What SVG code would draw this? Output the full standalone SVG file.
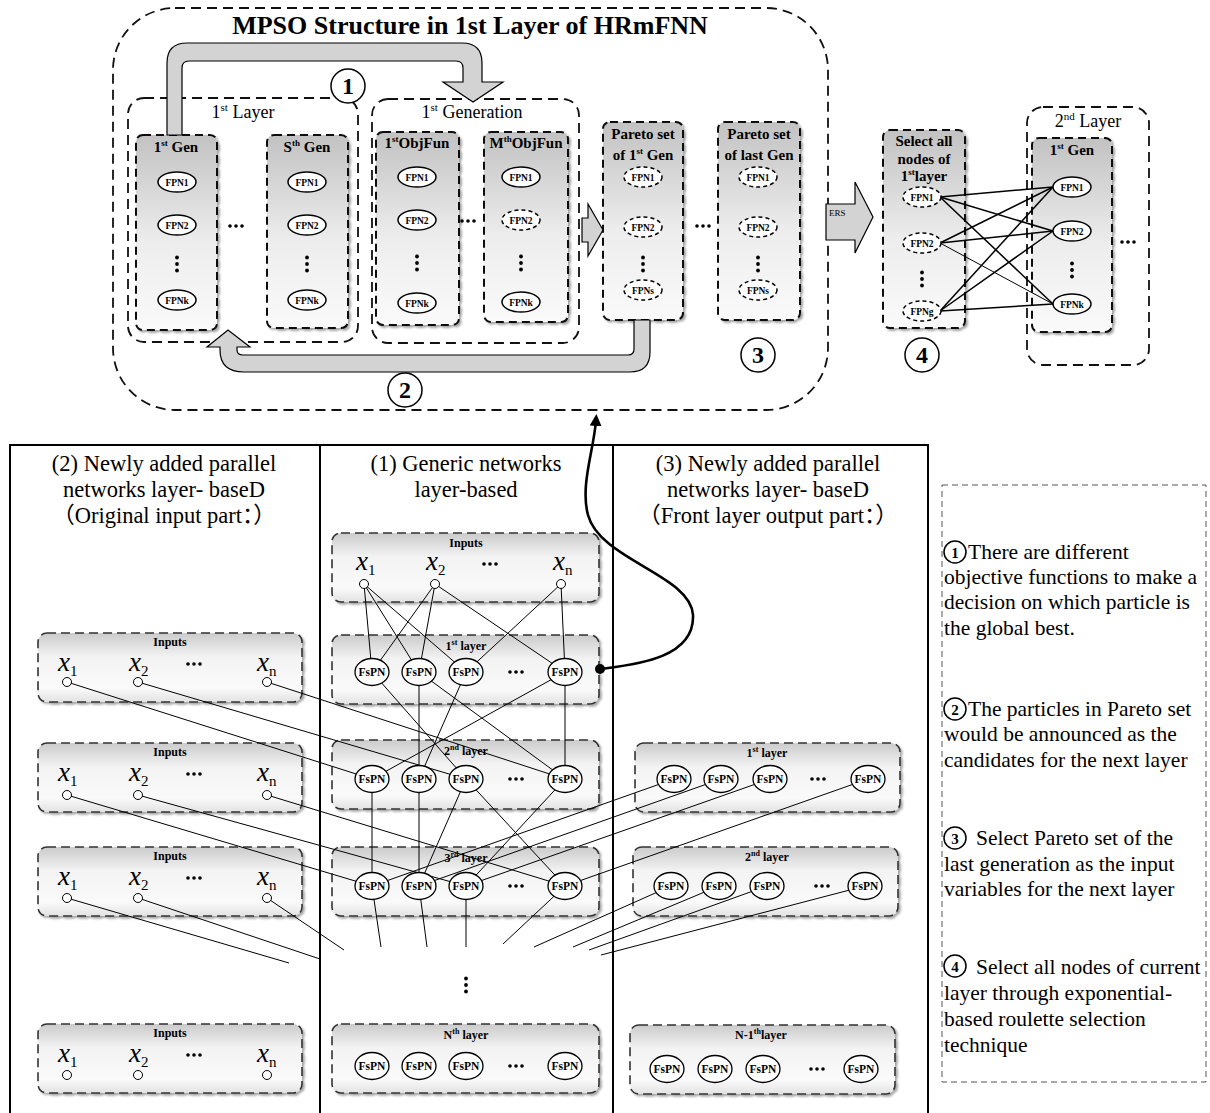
<svg xmlns="http://www.w3.org/2000/svg" xmlns:xlink="http://www.w3.org/1999/xlink" width="1210" height="1113" viewBox="0 0 1210 1113">
<defs>
<linearGradient id="gCol" x1="0" y1="0" x2="0" y2="1">
<stop offset="0" stop-color="#c2c2c2"/><stop offset="0.55" stop-color="#ededed"/><stop offset="1" stop-color="#fafafa"/>
</linearGradient>
<linearGradient id="gRow" x1="0" y1="0" x2="0" y2="1">
<stop offset="0" stop-color="#cbcbcb"/><stop offset="0.35" stop-color="#f3f3f3"/><stop offset="0.8" stop-color="#fafafa"/><stop offset="1" stop-color="#e2e2e2"/>
</linearGradient>
<filter id="sh" x="-10%" y="-10%" width="120%" height="120%">
<feDropShadow dx="2" dy="2" stdDeviation="1.2" flood-color="#000" flood-opacity="0.35"/>
</filter>
<marker id="ah" markerWidth="12" markerHeight="12" refX="6" refY="6" orient="auto" markerUnits="userSpaceOnUse">
<path d="M0,0 L12,6 L0,12 Z" fill="#000"/>
</marker>
<g id="hd"><circle cx="-6" cy="0" r="1.8"/><circle cx="0" cy="0" r="1.8"/><circle cx="6" cy="0" r="1.8"/></g>
<g id="vd"><circle cx="0" cy="-6.5" r="1.9"/><circle cx="0" cy="0" r="1.9"/><circle cx="0" cy="6.5" r="1.9"/></g>
</defs>
<style>
text{font-family:"Liberation Serif","Times New Roman","Noto Sans CJK SC",serif;fill:#000}
.b{font-weight:bold}
.mid{text-anchor:middle}
.col{fill:url(#gCol);stroke:#111;stroke-width:2;stroke-dasharray:8 5;filter:url(#sh)}
.row{fill:url(#gRow);stroke:#333;stroke-width:1.6;stroke-dasharray:9 5;filter:url(#sh)}
.grp{fill:none;stroke:#111;stroke-width:1.8;stroke-dasharray:10 6}
.fpn{fill:#fff;stroke:#000;stroke-width:1.5}
.fpnd{fill:#fff;stroke:#000;stroke-width:1.5;stroke-dasharray:4 3}
.fs{fill:#fff;stroke:#000;stroke-width:1.3}
.inp{fill:#fff;stroke:#000;stroke-width:1}
.ln{stroke:#000;stroke-width:1;fill:none}
.bl{stroke:#000;stroke-width:1.5;fill:none}
.band{fill:#d3d3d3;stroke:#000;stroke-width:1.2}
.nc{fill:#fff;stroke:#000;stroke-width:1.5}
.fl{font-size:9.5px;font-weight:bold;text-anchor:middle}
.fsl{font-size:11.5px;font-weight:bold;text-anchor:middle}
.ct{font-size:15px;font-weight:bold;text-anchor:middle}
.xv{font-size:27px;font-style:italic}
.sub{font-size:15px;font-style:normal}
.il{font-size:12px;font-weight:bold;text-anchor:middle}
.hd{font-size:22.5px;text-anchor:middle}
.tx{font-size:21.5px}
.panel{fill:none;stroke:#000;stroke-width:2}
</style>

<!-- ===== TOP CONTAINERS ===== -->
<g id="mpso-outer">
<rect x="113" y="8" width="715" height="402" rx="62" class="grp" stroke-dasharray="12 7"/>
<text x="470" y="34" class="b mid" font-size="26">MPSO Structure in 1st Layer of HRmFNN</text>
</g>
<g id="layer1-group">
<rect x="128" y="98" width="230" height="244" rx="16" class="grp"/>
<text x="243" y="118" class="mid" font-size="18">1<tspan font-size="11" dy="-7">st</tspan><tspan dy="7"> Layer</tspan></text>
</g>
<g id="gen1-col">
<rect x="136" y="135" width="81" height="195" rx="7" class="col"/>
<text x="176" y="152" class="ct">1<tspan font-size="9" dy="-6">st</tspan><tspan dy="6"> Gen</tspan></text>
</g>
<g id="genS-col">
<rect x="267" y="135" width="81" height="193" rx="7" class="col"/>
<text x="307" y="152" class="ct">S<tspan font-size="9" dy="-6">th</tspan><tspan dy="6">  Gen</tspan></text>
</g>
<g id="generation1-group">
<rect x="372" y="99" width="207" height="244" rx="16" class="grp"/>
<text x="472" y="118" class="mid" font-size="18">1<tspan font-size="11" dy="-7">st</tspan><tspan dy="7"> Generation</tspan></text>
</g>
<g id="objfun1-col">
<rect x="376" y="132" width="83" height="193" rx="7" class="col"/>
<text x="417" y="148" class="ct">1<tspan font-size="9" dy="-6">st</tspan><tspan dy="6">ObjFun</tspan></text>
</g>
<g id="objfunM-col">
<rect x="484" y="132" width="84" height="190" rx="7" class="col"/>
<text x="526" y="148" class="ct">M<tspan font-size="9" dy="-6">th</tspan><tspan dy="6">ObjFun</tspan></text>
</g>
<g id="pareto1-col">
<rect x="603" y="122" width="80" height="198" rx="7" class="col"/>
<text x="643" y="139" class="ct">Pareto set</text>
<text x="643" y="160" class="ct">of 1<tspan font-size="9" dy="-6">st</tspan><tspan dy="6"> Gen</tspan></text>
</g>
<g id="paretoLast-col">
<rect x="718" y="122" width="82" height="198" rx="7" class="col"/>
<text x="759" y="139" class="ct">Pareto set</text>
<text x="759" y="160" class="ct">of last Gen</text>
</g>
<g id="select-col">
<rect x="883" y="130" width="82" height="198" rx="7" class="col"/>
<text x="924" y="146" class="ct">Select all</text>
<text x="924" y="164" class="ct">nodes of</text>
<text x="924" y="181" class="ct">1<tspan font-size="9" dy="-6">st</tspan><tspan dy="6">layer</tspan></text>
</g>
<g id="layer2-group">
<rect x="1027" y="107" width="122" height="258" rx="16" class="grp"/>
<text x="1088" y="127" class="mid" font-size="18">2<tspan font-size="11" dy="-7">nd</tspan><tspan dy="7"> Layer</tspan></text>
</g>
<g id="layer2-gen1-col">
<rect x="1032" y="138" width="80" height="194" rx="7" class="col"/>
<text x="1072" y="155" class="ct">1<tspan font-size="9" dy="-6">st</tspan><tspan dy="6"> Gen</tspan></text>
</g>

<!-- ===== BOTTOM PANELS ===== -->
<g id="panels">
<rect x="10" y="445" width="918" height="690" class="panel"/>
<line x1="320" y1="445" x2="320" y2="1113" class="panel"/>
<line x1="613" y1="445" x2="613" y2="1113" class="panel"/>
<text x="164" y="471" class="hd">(2) Newly added parallel</text>
<text x="164" y="497" class="hd">networks layer- baseD</text>
<text x="164" y="523" class="hd">（Original input part：）</text>
<text x="466" y="471" class="hd">(1) Generic networks</text>
<text x="466" y="497" class="hd">layer-based</text>
<text x="768" y="471" class="hd">(3) Newly added parallel</text>
<text x="768" y="497" class="hd">networks layer- baseD</text>
<text x="768" y="523" class="hd">（Front layer output part：）</text>
</g>

<!-- middle column -->
<g id="mid-inputs">
<rect x="332" y="533" width="267" height="69" rx="9" class="row"/>
<text x="466" y="547" class="il">Inputs</text>
<text x="356" y="570" class="xv">x<tspan class="sub" dy="5">1</tspan></text>
<text x="426" y="570" class="xv">x<tspan class="sub" dy="5">2</tspan></text>
<text x="553" y="570" class="xv">x<tspan class="sub" dy="5">n</tspan></text>
<use xlink:href="#hd" x="490" y="564"/>
</g>
<g id="mid-layer1">
<rect x="332" y="635" width="267" height="69" rx="9" class="row"/>
<text x="466" y="650" class="il">1<tspan font-size="8" dy="-5">st</tspan><tspan dy="5"> layer</tspan></text>
<use xlink:href="#hd" x="516" y="672"/>
</g>
<g id="mid-layer2">
<rect x="332" y="740" width="267" height="69" rx="9" class="row"/>
<text x="466" y="755" class="il">2<tspan font-size="8" dy="-5">nd</tspan><tspan dy="5"> layer</tspan></text>
<use xlink:href="#hd" x="516" y="779"/>
</g>
<g id="mid-layer3">
<rect x="332" y="847" width="267" height="69" rx="9" class="row"/>
<text x="466" y="862" class="il">3<tspan font-size="8" dy="-5">rd</tspan><tspan dy="5"> layer</tspan></text>
<use xlink:href="#hd" x="516" y="886"/>
</g>
<use xlink:href="#vd" x="466" y="985"/>
<g id="mid-layerN">
<rect x="332" y="1024" width="267" height="69" rx="9" class="row"/>
<text x="466" y="1039" class="il">N<tspan font-size="8" dy="-5">th</tspan><tspan dy="5"> layer</tspan></text>
<use xlink:href="#hd" x="516" y="1066"/>
</g>

<!-- left column -->
<g id="left-inputs-1">
<rect x="38" y="633" width="264" height="69" rx="9" class="row"/>
<text x="170" y="646" class="il">Inputs</text>
<text x="58" y="671" class="xv">x<tspan class="sub" dy="5">1</tspan></text>
<text x="129" y="671" class="xv">x<tspan class="sub" dy="5">2</tspan></text>
<text x="257" y="671" class="xv">x<tspan class="sub" dy="5">n</tspan></text>
<use xlink:href="#hd" x="194" y="664"/>
</g>
<g id="left-inputs-2">
<rect x="38" y="743" width="264" height="69" rx="9" class="row"/>
<text x="170" y="756" class="il">Inputs</text>
<text x="58" y="781" class="xv">x<tspan class="sub" dy="5">1</tspan></text>
<text x="129" y="781" class="xv">x<tspan class="sub" dy="5">2</tspan></text>
<text x="257" y="781" class="xv">x<tspan class="sub" dy="5">n</tspan></text>
<use xlink:href="#hd" x="194" y="774"/>
</g>
<g id="left-inputs-3">
<rect x="38" y="847" width="264" height="69" rx="9" class="row"/>
<text x="170" y="860" class="il">Inputs</text>
<text x="58" y="885" class="xv">x<tspan class="sub" dy="5">1</tspan></text>
<text x="129" y="885" class="xv">x<tspan class="sub" dy="5">2</tspan></text>
<text x="257" y="885" class="xv">x<tspan class="sub" dy="5">n</tspan></text>
<use xlink:href="#hd" x="194" y="878"/>
</g>
<g id="left-inputs-4">
<rect x="38" y="1024" width="264" height="69" rx="9" class="row"/>
<text x="170" y="1037" class="il">Inputs</text>
<text x="58" y="1062" class="xv">x<tspan class="sub" dy="5">1</tspan></text>
<text x="129" y="1062" class="xv">x<tspan class="sub" dy="5">2</tspan></text>
<text x="257" y="1062" class="xv">x<tspan class="sub" dy="5">n</tspan></text>
<use xlink:href="#hd" x="194" y="1055"/>
</g>

<!-- right column -->
<g id="right-layer1">
<rect x="635" y="743" width="265" height="69" rx="9" class="row"/>
<text x="767" y="757" class="il">1<tspan font-size="8" dy="-5">st</tspan><tspan dy="5"> layer</tspan></text>
<use xlink:href="#hd" x="818" y="779"/>
</g>
<g id="right-layer2">
<rect x="633" y="847" width="265" height="69" rx="9" class="row"/>
<text x="767" y="861" class="il">2<tspan font-size="8" dy="-5">nd</tspan><tspan dy="5"> layer</tspan></text>
<use xlink:href="#hd" x="822" y="886"/>
</g>
<g id="right-layerN1">
<rect x="630" y="1025" width="265" height="69" rx="9" class="row"/>
<text x="761" y="1039" class="il">N-1<tspan font-size="8" dy="-5">th</tspan><tspan dy="5">layer</tspan></text>
<use xlink:href="#hd" x="817" y="1069"/>
</g>

<!-- legend -->
<g id="legend">
<rect x="942" y="485" width="264" height="597" fill="none" stroke="#555" stroke-width="1" stroke-dasharray="6 4"/>
<circle cx="955" cy="552" r="11" class="nc"/><text x="955" y="557.5" class="ct">1</text>
<text x="968" y="559" class="tx">There are different</text>
<text x="944" y="584" class="tx">objective functions to make a</text>
<text x="944" y="609" class="tx">decision on which particle is</text>
<text x="944" y="635" class="tx">the global best.</text>
<circle cx="955" cy="709" r="11" class="nc"/><text x="955" y="714.5" class="ct">2</text>
<text x="968" y="716" class="tx">The particles in Pareto set</text>
<text x="944" y="741" class="tx">would be announced as the</text>
<text x="944" y="767" class="tx">candidates for the next layer</text>
<circle cx="955" cy="838" r="11" class="nc"/><text x="955" y="843.5" class="ct">3</text>
<text x="976" y="845" class="tx">Select Pareto set of the</text>
<text x="944" y="871" class="tx">last generation as the input</text>
<text x="944" y="896" class="tx">variables for the next layer</text>
<circle cx="955" cy="966" r="11" class="nc"/><text x="955" y="971.5" class="ct">4</text>
<text x="976" y="974" class="tx">Select all nodes of current</text>
<text x="944" y="1000" class="tx">layer through exponential-</text>
<text x="944" y="1026" class="tx">based roulette selection</text>
<text x="944" y="1052" class="tx">technique</text>
</g>

<!-- ===== CONNECTORS ===== -->
<g id="connectors">
<path class="band" d="M167,135 V63 Q167,43 187,43 H462 Q482,43 482,63 V82 H503 L473,102 L443,82 H463 V68 Q463,61 456,61 H189 Q182,61 182,68 V135 Z"/>
<path class="band" d="M634,320 H650 V352 Q650,372 630,372 H244 Q220,372 220,350 V347 H207 L228,330 L250,347 H237 V350 Q237,355 243,355 H628 Q634,355 634,349 Z"/>
<polygon class="band" points="582,218 588,218 588,204 603,230 588,256 588,242 582,242"/>
<polygon class="band" points="826,204 855,204 855,182 873,217 855,253 855,240 826,240"/>
<text x="829" y="216" font-size="9" fill="#333">ERS</text>
<!-- bipartite -->
<line class="bl" x1="940" y1="197" x2="1053" y2="187"/>
<line class="bl" x1="940" y1="197" x2="1053" y2="231"/>
<line class="bl" x1="940" y1="197" x2="1053" y2="304"/>
<line class="bl" x1="940" y1="243" x2="1053" y2="187"/>
<line class="bl" x1="940" y1="243" x2="1053" y2="231"/>
<line class="ln" x1="940" y1="243" x2="1053" y2="304" stroke-width="0.8"/>
<line class="bl" x1="940" y1="311" x2="1053" y2="187"/>
<line class="bl" x1="940" y1="311" x2="1053" y2="231"/>
<line class="bl" x1="940" y1="311" x2="1053" y2="304"/>
<!-- middle inputs to layer 1 -->
<line class="ln" x1="364" y1="584" x2="372" y2="672"/>
<line class="ln" x1="364" y1="584" x2="419" y2="672"/>
<line class="ln" x1="364" y1="584" x2="466" y2="672"/>
<line class="ln" x1="435" y1="584" x2="372" y2="672"/>
<line class="ln" x1="435" y1="584" x2="419" y2="672"/>
<line class="ln" x1="435" y1="584" x2="565" y2="672"/>
<line class="ln" x1="561" y1="584" x2="466" y2="672"/>
<line class="ln" x1="561" y1="584" x2="565" y2="672"/>
<!-- layer1 to layer2 -->
<line class="ln" x1="372" y1="672" x2="466" y2="779"/>
<line class="ln" x1="419" y1="672" x2="419" y2="779"/>
<line class="ln" x1="419" y1="672" x2="565" y2="779"/>
<line class="ln" x1="466" y1="672" x2="419" y2="779"/>
<line class="ln" x1="565" y1="672" x2="372" y2="779"/>
<line class="ln" x1="565" y1="672" x2="565" y2="779"/>
<!-- layer2 to layer3 -->
<line class="ln" x1="372" y1="779" x2="372" y2="886"/>
<line class="ln" x1="419" y1="779" x2="419" y2="886"/>
<line class="ln" x1="466" y1="779" x2="419" y2="886"/>
<line class="ln" x1="466" y1="779" x2="565" y2="886"/>
<line class="ln" x1="565" y1="779" x2="466" y2="886"/>
<!-- layer3 downward -->
<line class="ln" x1="372" y1="886" x2="381" y2="947"/>
<line class="ln" x1="419" y1="886" x2="427" y2="947"/>
<line class="ln" x1="466" y1="886" x2="466" y2="947"/>
<line class="ln" x1="565" y1="886" x2="503" y2="944"/>
<!-- left inputs -->
<line class="ln" x1="67" y1="682" x2="372" y2="779"/>
<line class="ln" x1="138" y1="682" x2="466" y2="779"/>
<line class="ln" x1="267" y1="682" x2="565" y2="779"/>
<line class="ln" x1="67" y1="795" x2="372" y2="886"/>
<line class="ln" x1="138" y1="795" x2="466" y2="886"/>
<line class="ln" x1="267" y1="795" x2="565" y2="886"/>
<line class="ln" x1="67" y1="898" x2="289" y2="963"/>
<line class="ln" x1="138" y1="898" x2="320" y2="959"/>
<line class="ln" x1="267" y1="898" x2="344" y2="950"/>
<!-- right layers -->
<line class="ln" x1="674" y1="779" x2="372" y2="886"/>
<line class="ln" x1="721" y1="779" x2="419" y2="886"/>
<line class="ln" x1="770" y1="779" x2="466" y2="886"/>
<line class="ln" x1="868" y1="779" x2="565" y2="886"/>
<line class="ln" x1="671" y1="886" x2="534" y2="947"/>
<line class="ln" x1="719" y1="886" x2="573" y2="947"/>
<line class="ln" x1="767" y1="886" x2="589" y2="950"/>
<line class="ln" x1="865" y1="886" x2="601" y2="955"/>
<!-- feedback curve -->
<path d="M600,669 C630,665 695,660 693,615 C691,575 600,560 588,515 C580,485 594,450 596,420" fill="none" stroke="#000" stroke-width="2.6" marker-end="url(#ah)"/>
<circle cx="600" cy="669" r="5" fill="#000"/>
</g>

<!-- ===== NODES (TOP) ===== -->
<g id="circle-1"><circle cx="348" cy="86" r="17" class="nc"/><text x="348" y="94" class="b mid" font-size="24">1</text></g>
<g id="circle-2"><circle cx="405" cy="390" r="17" class="nc"/><text x="405" y="398" class="b mid" font-size="24">2</text></g>
<g id="circle-3"><circle cx="758" cy="355" r="17" class="nc"/><text x="758" y="363" class="b mid" font-size="24">3</text></g>
<g id="circle-4"><circle cx="922" cy="355" r="17" class="nc"/><text x="922" y="363" class="b mid" font-size="24">4</text></g>

<g id="g1-fpn1"><ellipse cx="177" cy="182" rx="19" ry="10" class="fpn"/><text x="177" y="185.5" class="fl">FPN1</text></g>
<g id="g1-fpn2"><ellipse cx="177" cy="225" rx="19" ry="10" class="fpn"/><text x="177" y="228.5" class="fl">FPN2</text></g>
<use xlink:href="#vd" x="177" y="264"/>
<g id="g1-fpnk"><ellipse cx="177" cy="300" rx="19" ry="10" class="fpn"/><text x="177" y="303.5" class="fl">FPNk</text></g>
<use xlink:href="#hd" x="236" y="226"/>
<g id="gS-fpn1"><ellipse cx="307" cy="182" rx="19" ry="10" class="fpn"/><text x="307" y="185.5" class="fl">FPN1</text></g>
<g id="gS-fpn2"><ellipse cx="307" cy="225" rx="19" ry="10" class="fpn"/><text x="307" y="228.5" class="fl">FPN2</text></g>
<use xlink:href="#vd" x="307" y="264"/>
<g id="gS-fpnk"><ellipse cx="307" cy="300" rx="19" ry="10" class="fpn"/><text x="307" y="303.5" class="fl">FPNk</text></g>

<g id="o1-fpn1"><ellipse cx="417" cy="177" rx="19" ry="10" class="fpn"/><text x="417" y="180.5" class="fl">FPN1</text></g>
<g id="o1-fpn2"><ellipse cx="417" cy="220" rx="19" ry="10" class="fpn"/><text x="417" y="223.5" class="fl">FPN2</text></g>
<use xlink:href="#vd" x="417" y="263"/>
<g id="o1-fpnk"><ellipse cx="417" cy="303" rx="19" ry="10" class="fpn"/><text x="417" y="306.5" class="fl">FPNk</text></g>
<use xlink:href="#hd" x="468" y="221"/>
<g id="oM-fpn1"><ellipse cx="521" cy="177" rx="19" ry="10" class="fpn"/><text x="521" y="180.5" class="fl">FPN1</text></g>
<g id="oM-fpn2"><ellipse cx="521" cy="220" rx="19" ry="10" class="fpnd"/><text x="521" y="223.5" class="fl">FPN2</text></g>
<use xlink:href="#vd" x="521" y="263"/>
<g id="oM-fpnk"><ellipse cx="521" cy="302" rx="19" ry="10" class="fpn"/><text x="521" y="305.5" class="fl">FPNk</text></g>

<g id="p1-fpn1"><ellipse cx="643" cy="177" rx="19" ry="10" class="fpnd"/><text x="643" y="180.5" class="fl">FPN1</text></g>
<g id="p1-fpn2"><ellipse cx="643" cy="227" rx="19" ry="10" class="fpnd"/><text x="643" y="230.5" class="fl">FPN2</text></g>
<use xlink:href="#vd" x="643" y="264"/>
<g id="p1-fpns"><ellipse cx="643" cy="290" rx="19" ry="10" class="fpnd"/><text x="643" y="293.5" class="fl">FPNs</text></g>
<use xlink:href="#hd" x="703" y="226"/>
<g id="pL-fpn1"><ellipse cx="758" cy="177" rx="19" ry="10" class="fpnd"/><text x="758" y="180.5" class="fl">FPN1</text></g>
<g id="pL-fpn2"><ellipse cx="758" cy="227" rx="19" ry="10" class="fpnd"/><text x="758" y="230.5" class="fl">FPN2</text></g>
<use xlink:href="#vd" x="758" y="264"/>
<g id="pL-fpns"><ellipse cx="758" cy="290" rx="19" ry="10" class="fpnd"/><text x="758" y="293.5" class="fl">FPNs</text></g>

<g id="s-fpn1"><ellipse cx="922" cy="197" rx="19" ry="10" class="fpnd"/><text x="922" y="200.5" class="fl">FPN1</text></g>
<g id="s-fpn2"><ellipse cx="922" cy="243" rx="19" ry="10" class="fpnd"/><text x="922" y="246.5" class="fl">FPN2</text></g>
<use xlink:href="#vd" x="922" y="279"/>
<g id="s-fpng"><ellipse cx="922" cy="311" rx="19" ry="10" class="fpnd"/><text x="922" y="314.5" class="fl">FPNg</text></g>

<g id="l2-fpn1"><ellipse cx="1072" cy="187" rx="19" ry="10" class="fpn"/><text x="1072" y="190.5" class="fl">FPN1</text></g>
<g id="l2-fpn2"><ellipse cx="1072" cy="231" rx="19" ry="10" class="fpn"/><text x="1072" y="234.5" class="fl">FPN2</text></g>
<use xlink:href="#vd" x="1072" y="270"/>
<g id="l2-fpnk"><ellipse cx="1072" cy="304" rx="19" ry="10" class="fpn"/><text x="1072" y="307.5" class="fl">FPNk</text></g>
<use xlink:href="#hd" x="1128" y="242"/>

<!-- ===== NODES (BOTTOM) ===== -->
<g id="mi-1"><circle cx="364" cy="584" r="4.5" class="inp"/></g>
<g id="mi-2"><circle cx="435" cy="584" r="4.5" class="inp"/></g>
<g id="mi-n"><circle cx="561" cy="584" r="4.5" class="inp"/></g>
<g id="la-1"><circle cx="67" cy="682" r="4.5" class="inp"/></g>
<g id="la-2"><circle cx="138" cy="682" r="4.5" class="inp"/></g>
<g id="la-n"><circle cx="267" cy="682" r="4.5" class="inp"/></g>
<g id="lb-1"><circle cx="67" cy="795" r="4.5" class="inp"/></g>
<g id="lb-2"><circle cx="138" cy="795" r="4.5" class="inp"/></g>
<g id="lb-n"><circle cx="267" cy="795" r="4.5" class="inp"/></g>
<g id="lc-1"><circle cx="67" cy="898" r="4.5" class="inp"/></g>
<g id="lc-2"><circle cx="138" cy="898" r="4.5" class="inp"/></g>
<g id="lc-n"><circle cx="267" cy="898" r="4.5" class="inp"/></g>
<g id="ld-1"><circle cx="67" cy="1075" r="4.5" class="inp"/></g>
<g id="ld-2"><circle cx="138" cy="1075" r="4.5" class="inp"/></g>
<g id="ld-n"><circle cx="267" cy="1075" r="4.5" class="inp"/></g>

<g id="m1-1"><ellipse cx="372" cy="672" rx="17" ry="13.5" class="fs"/><text x="372" y="676" class="fsl">FsPN</text></g>
<g id="m1-2"><ellipse cx="419" cy="672" rx="17" ry="13.5" class="fs"/><text x="419" y="676" class="fsl">FsPN</text></g>
<g id="m1-3"><ellipse cx="466" cy="672" rx="17" ry="13.5" class="fs"/><text x="466" y="676" class="fsl">FsPN</text></g>
<g id="m1-n"><ellipse cx="565" cy="672" rx="17" ry="13.5" class="fs"/><text x="565" y="676" class="fsl">FsPN</text></g>
<g id="m2-1"><ellipse cx="372" cy="779" rx="17" ry="13.5" class="fs"/><text x="372" y="783" class="fsl">FsPN</text></g>
<g id="m2-2"><ellipse cx="419" cy="779" rx="17" ry="13.5" class="fs"/><text x="419" y="783" class="fsl">FsPN</text></g>
<g id="m2-3"><ellipse cx="466" cy="779" rx="17" ry="13.5" class="fs"/><text x="466" y="783" class="fsl">FsPN</text></g>
<g id="m2-n"><ellipse cx="565" cy="779" rx="17" ry="13.5" class="fs"/><text x="565" y="783" class="fsl">FsPN</text></g>
<g id="m3-1"><ellipse cx="372" cy="886" rx="17" ry="13.5" class="fs"/><text x="372" y="890" class="fsl">FsPN</text></g>
<g id="m3-2"><ellipse cx="419" cy="886" rx="17" ry="13.5" class="fs"/><text x="419" y="890" class="fsl">FsPN</text></g>
<g id="m3-3"><ellipse cx="466" cy="886" rx="17" ry="13.5" class="fs"/><text x="466" y="890" class="fsl">FsPN</text></g>
<g id="m3-n"><ellipse cx="565" cy="886" rx="17" ry="13.5" class="fs"/><text x="565" y="890" class="fsl">FsPN</text></g>
<g id="mN-1"><ellipse cx="372" cy="1066" rx="17" ry="13.5" class="fs"/><text x="372" y="1070" class="fsl">FsPN</text></g>
<g id="mN-2"><ellipse cx="419" cy="1066" rx="17" ry="13.5" class="fs"/><text x="419" y="1070" class="fsl">FsPN</text></g>
<g id="mN-3"><ellipse cx="466" cy="1066" rx="17" ry="13.5" class="fs"/><text x="466" y="1070" class="fsl">FsPN</text></g>
<g id="mN-n"><ellipse cx="565" cy="1066" rx="17" ry="13.5" class="fs"/><text x="565" y="1070" class="fsl">FsPN</text></g>

<g id="r1-1"><ellipse cx="674" cy="779" rx="17" ry="13.5" class="fs"/><text x="674" y="783" class="fsl">FsPN</text></g>
<g id="r1-2"><ellipse cx="721" cy="779" rx="17" ry="13.5" class="fs"/><text x="721" y="783" class="fsl">FsPN</text></g>
<g id="r1-3"><ellipse cx="770" cy="779" rx="17" ry="13.5" class="fs"/><text x="770" y="783" class="fsl">FsPN</text></g>
<g id="r1-n"><ellipse cx="868" cy="779" rx="17" ry="13.5" class="fs"/><text x="868" y="783" class="fsl">FsPN</text></g>
<g id="r2-1"><ellipse cx="671" cy="886" rx="17" ry="13.5" class="fs"/><text x="671" y="890" class="fsl">FsPN</text></g>
<g id="r2-2"><ellipse cx="719" cy="886" rx="17" ry="13.5" class="fs"/><text x="719" y="890" class="fsl">FsPN</text></g>
<g id="r2-3"><ellipse cx="767" cy="886" rx="17" ry="13.5" class="fs"/><text x="767" y="890" class="fsl">FsPN</text></g>
<g id="r2-n"><ellipse cx="865" cy="886" rx="17" ry="13.5" class="fs"/><text x="865" y="890" class="fsl">FsPN</text></g>
<g id="rN-1"><ellipse cx="667" cy="1069" rx="17" ry="13.5" class="fs"/><text x="667" y="1073" class="fsl">FsPN</text></g>
<g id="rN-2"><ellipse cx="715" cy="1069" rx="17" ry="13.5" class="fs"/><text x="715" y="1073" class="fsl">FsPN</text></g>
<g id="rN-3"><ellipse cx="763" cy="1069" rx="17" ry="13.5" class="fs"/><text x="763" y="1073" class="fsl">FsPN</text></g>
<g id="rN-n"><ellipse cx="861" cy="1069" rx="17" ry="13.5" class="fs"/><text x="861" y="1073" class="fsl">FsPN</text></g>
</svg>
